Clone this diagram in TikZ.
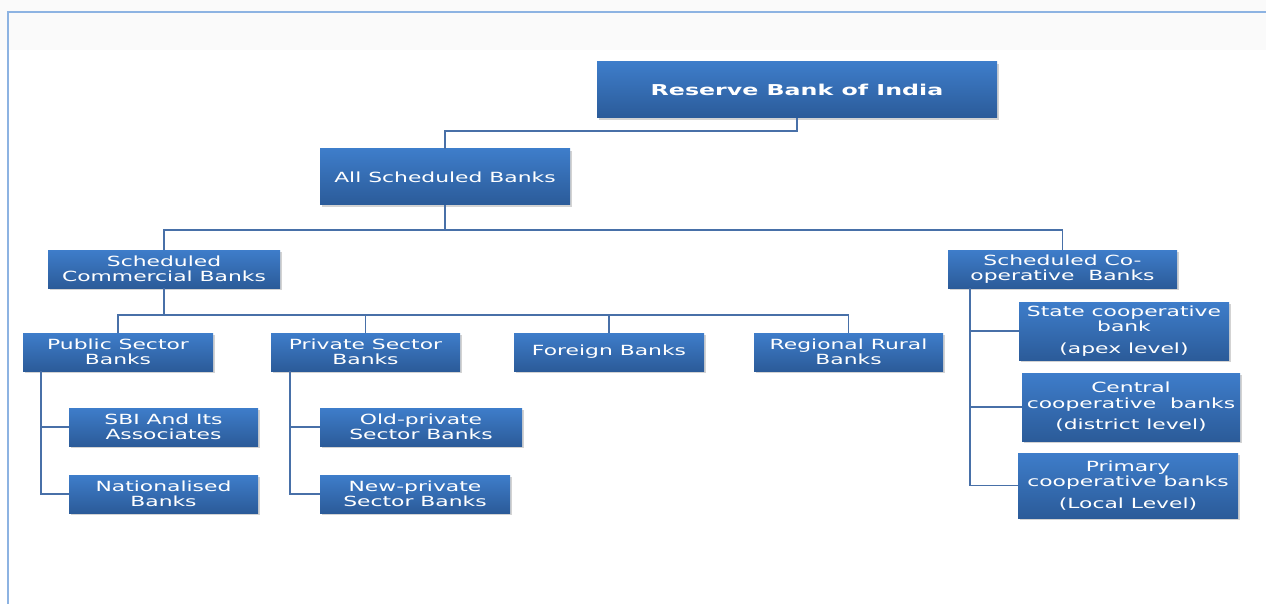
\documentclass[tikz,border=0pt]{standalone}
\usepackage{fontspec}
\newfontfamily\bx[FakeStretch=1.56]{DejaVu Sans}
\newfontfamily\bxt[FakeStretch=1.58]{DejaVu Sans}
\usetikzlibrary{shadows}
\definecolor{boxtop}{RGB}{62,125,202}
\definecolor{boxbot}{RGB}{43,91,153}
\definecolor{linkc}{RGB}{72,112,168}
\definecolor{framec}{RGB}{141,179,226}
\definecolor{bandc}{RGB}{250,250,250}
\tikzset{
  box/.style={top color=boxtop, bottom color=boxbot, draw=none, text=white,
    align=center, inner sep=0pt,
    font=\bx\fontsize{14}{15.5}\selectfont,
    drop shadow={opacity=0.35, shadow xshift=1.5pt, shadow yshift=-2pt}},
  link/.style={draw=linkc, line width=1.8pt},
}
\begin{document}
\begin{tikzpicture}[x=1pt,y=-1pt]
\useasboundingbox (0,0) rectangle (1266,604);
\fill[bandc] (0,0) rectangle (1266,50);
\draw[framec, line width=1.5pt] (8,604) -- (8,12) -- (1266,12);

\node[box, minimum width=400pt, minimum height=56pt, font=\bxt\fontsize{15}{17}\selectfont\bfseries] (rbi) at (797,90) {Reserve Bank of India};
\node[box, minimum width=250pt, minimum height=56pt] (asb) at (445,177) {All Scheduled Banks};
\node[box, minimum width=232pt, minimum height=38pt] (scb) at (164,269) {Scheduled\\Commercial Banks};
\node[box, minimum width=229pt, minimum height=38pt] (scob) at (1062.5,269) {Scheduled Co-\\operative\ \ Banks};
\node[box, minimum width=190pt, minimum height=38pt] (psb) at (118,352) {Public Sector\\Banks};
\node[box, minimum width=189pt, minimum height=38pt] (pvt) at (365.5,352) {Private Sector\\Banks};
\node[box, minimum width=190pt, minimum height=38pt] (frn) at (609,352) {Foreign Banks};
\node[box, minimum width=189pt, minimum height=38pt] (rrb) at (848.5,352) {Regional Rural\\Banks};
\node[box, minimum width=189pt, minimum height=38pt] (sbi) at (163.5,427) {SBI And Its\\Associates};
\node[box, minimum width=189pt, minimum height=38pt] (nat) at (163.5,494) {Nationalised\\Banks};
\node[box, minimum width=202pt, minimum height=38pt] (old) at (421,427) {Old-private\\Sector Banks};
\node[box, minimum width=190pt, minimum height=38pt] (new) at (415,494) {New-private\\Sector Banks};
\node[box, minimum width=210pt, minimum height=58pt] (st) at (1124,331) {State cooperative\\bank\\[6pt](apex level)};
\node[box, minimum width=218pt, minimum height=68pt] (cen) at (1131,407) {Central\\cooperative\ \ banks\\[6pt](district level)};
\node[box, minimum width=220pt, minimum height=65pt] (pri) at (1128,485.5) {Primary\\cooperative banks\\[6pt](Local Level)};

\coordinate (bus0) at (0,131);
\coordinate (bus1) at (0,230);
\coordinate (bus2) at (0,315);
\coordinate (psbx) at (41,0);
\coordinate (pvtx) at (290,0);
\coordinate (scobx) at (970,0);

\draw[link] (rbi.south) -- (rbi.south |- bus0) -| (asb.north);
\draw[link] (asb.south) -- (asb.south |- bus1);
\draw[link] (scb.north) -- (scb.north |- bus1) -| (scob.north);
\draw[link] (scb.south) -- (scb.south |- bus2);
\draw[link] (psb.north) -- (psb.north |- bus2) -| (rrb.north);
\draw[link] (pvt.north) -- (pvt.north |- bus2);
\draw[link] (frn.north) -- (frn.north |- bus2);

\draw[link] (psb.south -| psbx) |- (nat.west);
\draw[link] (psbx |- sbi.west) -- (sbi.west);
\draw[link] (pvt.south -| pvtx) |- (new.west);
\draw[link] (pvtx |- old.west) -- (old.west);
\draw[link] (scob.south -| scobx) |- (pri.west);
\draw[link] (scobx |- st.west) -- (st.west);
\draw[link] (scobx |- cen.west) -- (cen.west);
\end{tikzpicture}
\end{document}
